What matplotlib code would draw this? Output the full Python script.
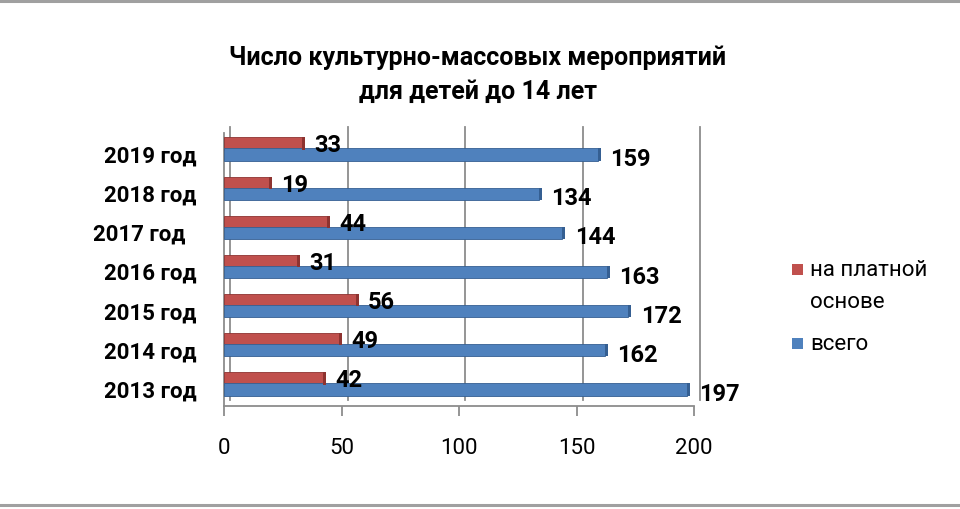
import matplotlib
matplotlib.use("Agg")
import matplotlib.pyplot as plt
import matplotlib.transforms as mtransforms
from matplotlib.lines import Line2D
from matplotlib.patches import Rectangle
import numpy as np

# ---- data ----
years = ['2013 год', '2014 год', '2015 год', '2016 год', '2017 год  ', '2018 год', '2019 год']
paid = [42, 49, 56, 31, 44, 19, 33]        # на платной основе
total = [197, 162, 172, 163, 144, 134, 159]  # всего
xticks = [0, 50, 100, 150, 200]
series_names = ['на платной\nоснове', 'всего']
title = 'Число культурно-массовых мероприятий\nдля детей до 14 лет'

plt.rcParams['font.family'] = ['Roboto', 'DejaVu Sans']

RED, RED_D = '#C0504D', '#8E3330'
BLUE, BLUE_D = '#4F81BD', '#355F92'
GRID = '#8C8C8C'

fig = plt.figure(figsize=(9.6, 5.1), dpi=100)
ax = fig.add_axes([224 / 960, 1 - 407 / 510, (694 - 224) / 960, (407 - 128) / 510])

y = np.arange(len(years))
h = 0.31
off_r, off_b = 0.14, -0.14

ax.barh(y + off_r, paid, height=h, color=RED, edgecolor=RED_D, linewidth=0.6, zorder=3)
ax.barh(y + off_b, total, height=h, color=BLUE, edgecolor=BLUE_D, linewidth=0.6, zorder=3)
# darker end faces for a 3D look
ax.barh(y + off_r, [1.3] * len(paid), left=paid, height=h, color=RED_D, linewidth=0, zorder=3)
ax.barh(y + off_b, [1.3] * len(total), left=total, height=h, color=BLUE_D, linewidth=0, zorder=3)

ax.set_xlim(0, 200)
ax.set_ylim(-0.56, 6.56)

# back-wall gridlines, shifted to suggest depth
shift = mtransforms.ScaledTranslation(6 / 100, 6 / 100, fig.dpi_scale_trans)
tr = mtransforms.blended_transform_factory(ax.transData, ax.transAxes) + shift
for xv in xticks:
    ax.plot([xv, xv], [0.0, 1.0 - 6 / 279], color=GRID, lw=1.3, transform=tr, zorder=1, clip_on=False)
ax.plot([0, 0], [0, 1.0 - 6 / 279], color=GRID, lw=1.3, zorder=1, clip_on=False,
        transform=mtransforms.blended_transform_factory(ax.transData, ax.transAxes))

for s in ['top', 'right', 'left']:
    ax.spines[s].set_visible(False)
ax.spines['bottom'].set_color(GRID)
ax.spines['bottom'].set_linewidth(1.3)

ax.set_xticks(xticks)
ax.set_xticklabels([str(v) for v in xticks])
ax.tick_params(axis='x', length=7, width=1.3, color=GRID, pad=15, labelsize=16)
ax.set_yticks(y)
ax.set_yticklabels(years, fontweight='bold', fontsize=16)
ax.tick_params(axis='y', length=0, pad=20)
for lbl in ax.get_yticklabels():
    lbl.set_transform(lbl.get_transform() + mtransforms.ScaledTranslation(0, -4 / 100, fig.dpi_scale_trans))

for yi, v in zip(y, paid):
    ax.annotate(str(v), (v, yi + off_r), xytext=(9, -1), textcoords='offset points',
                ha='left', va='center', fontsize=17, fontweight='bold', zorder=5)
for yi, v in zip(y, total):
    ax.annotate(str(v), (v, yi + off_b), xytext=(9, -3), textcoords='offset points',
                ha='left', va='center', fontsize=17, fontweight='bold', zorder=5)

fig.text(478 / 960, 1 - 75 / 510, title, ha='center', va='center', fontsize=18,
         fontweight='bold', linespacing=1.5)

# legend (handle aligned with the first line of each label, as in the original)
leg_colors = [RED, BLUE]
leg_y = [271, 345]
for c, ly, name in zip(leg_colors, leg_y, series_names):
    fig.add_artist(Rectangle((792 / 960, 1 - (ly + 5) / 510), 11 / 960, 11 / 510,
                             facecolor=c, edgecolor='none', transform=fig.transFigure))
    fig.text(810 / 960, 1 - (ly - 11) / 510, name, ha='left', va='top', fontsize=16,
             linespacing=1.7)

fig.add_artist(Line2D([0, 1], [1 - 2 / 510, 1 - 2 / 510], color='#A0A0A0', lw=2.2, transform=fig.transFigure))
fig.add_artist(Line2D([0, 1], [1 - 506 / 510, 1 - 506 / 510], color='#A0A0A0', lw=2.2, transform=fig.transFigure))

fig.savefig('out.png', dpi=100, facecolor='white')
